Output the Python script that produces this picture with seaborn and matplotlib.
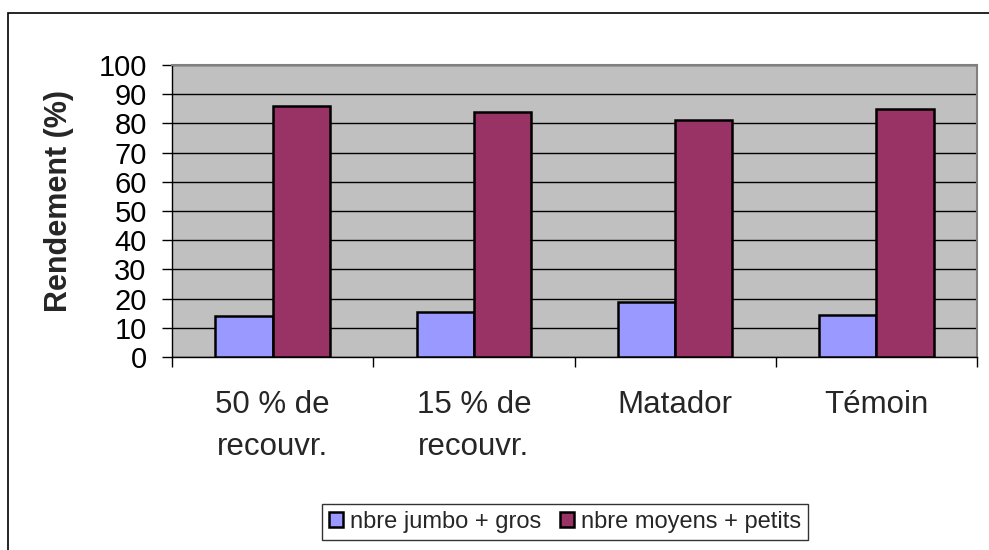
import matplotlib
matplotlib.use("Agg")
import matplotlib.pyplot as plt
import seaborn as sns
import pandas as pd
from matplotlib.patches import Rectangle

categories = ["50 % de\nrecouvr.", "15 % de\nrecouvr.", "Matador", "Témoin"]
series_names = ["nbre jumbo + gros", "nbre moyens + petits"]
jumbo_gros = [14, 15.5, 19, 14.5]
moyens_petits = [86, 84, 81, 85]
y_ticks = [0, 10, 20, 30, 40, 50, 60, 70, 80, 90, 100]

df = pd.DataFrame({
    "cat": categories * 2,
    "serie": [series_names[0]] * 4 + [series_names[1]] * 4,
    "val": jumbo_gros + moyens_petits,
})

sns.set_style("white")
plt.rcParams["font.family"] = ["Liberation Sans", "DejaVu Sans"]

fig = plt.figure(figsize=(9.89, 5.5), dpi=100)
ax = fig.add_axes([172 / 989, 1 - 357 / 550, (977 - 172) / 989, (357 - 65) / 550])
ax.set_facecolor("#C0C0C0")

sns.barplot(data=df, x="cat", y="val", hue="serie", order=categories,
            hue_order=series_names, palette=["#9999FF", "#993366"],
            saturation=1, width=0.57, edgecolor="black", linewidth=1.8,
            ax=ax, zorder=3, legend=True)

ax.set_ylim(0, 100)
ax.set_xlim(-0.5, 3.5)
ax.set_yticks(y_ticks)
ax.yaxis.grid(True, color="black", linewidth=1.0, zorder=1)
ax.set_axisbelow(True)
ax.tick_params(axis="y", labelsize=21, length=7.2, width=1, direction="out",
               left=True, pad=11, colors="black")
ax.set_xticks(range(4))
ax.set_xticklabels(categories, fontsize=22.5, linespacing=1.5)
ax.tick_params(axis="x", which="major", length=0, pad=24)
ax.set_xticks([-0.5, 0.5, 1.5, 2.5, 3.5], minor=True)
ax.tick_params(axis="x", which="minor", length=7.2, width=1, direction="out",
               bottom=True, color="black")
ax.set_xlabel("")
ax.set_ylabel("Rendement (%)", fontsize=22, fontweight="bold")
ax.yaxis.set_label_coords((74 - 172) / 805, 0.5 + 10 / 292)

for s in ["left", "bottom"]:
    ax.spines[s].set_color("black")
    ax.spines[s].set_linewidth(1.0)
for s in ["top", "right"]:
    ax.spines[s].set_color("#808080")
    ax.spines[s].set_linewidth(1.5)

leg = ax.legend(loc="center", bbox_to_anchor=(565 / 989, 1 - 522 / 550),
                bbox_transform=fig.transFigure, ncol=2, frameon=True,
                fancybox=False, edgecolor="black", fontsize=17,
                handlelength=0.6, handleheight=0.6, handletextpad=0.3,
                columnspacing=0.8, borderpad=0.3, borderaxespad=0)
leg.get_frame().set_linewidth(1.0)
for h in leg.legend_handles:
    h.set_edgecolor("black")
    h.set_linewidth(1.8)

fig.patches.append(Rectangle((8 / 989, -0.1), 1.2, 1 - 13 / 550 + 0.1,
                             transform=fig.transFigure, fill=False,
                             edgecolor="black", linewidth=1.2))

fig.savefig("out.png", dpi=100)
